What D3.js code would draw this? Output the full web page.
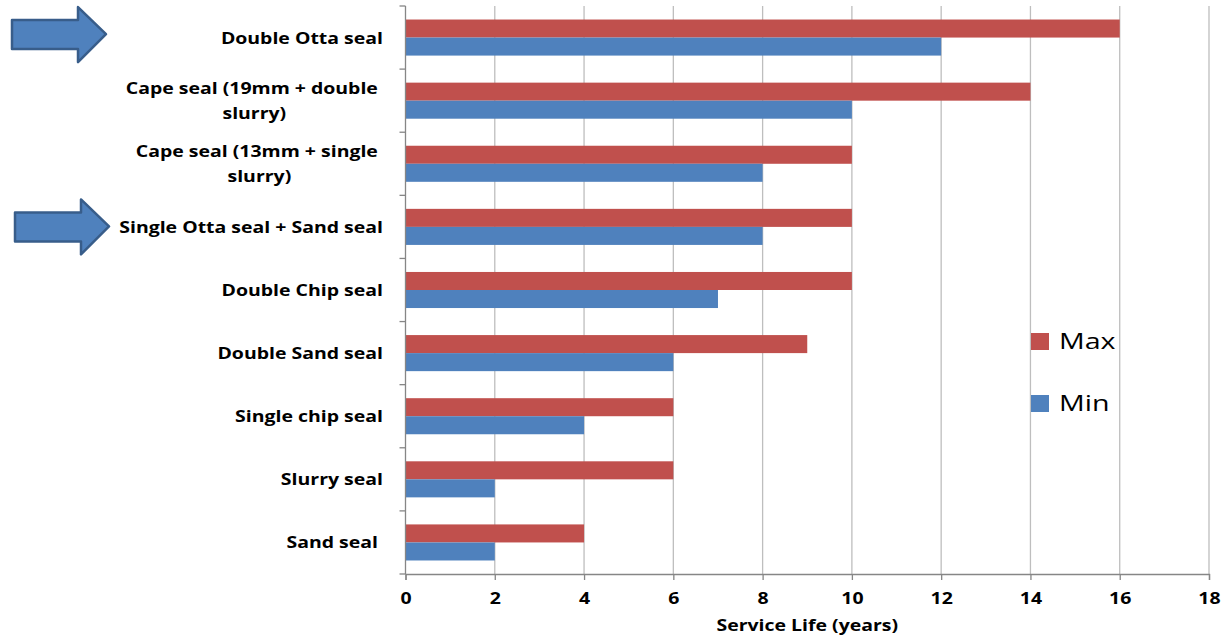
<!DOCTYPE html>
<html><head><meta charset="utf-8">
<script src="https://cdn.jsdelivr.net/npm/d3@7"></script>
<style>
html,body{margin:0;padding:0;background:#fff;}
text{font-family:"Open Sans","Liberation Sans",sans-serif;}
</style></head>
<body><svg id="c" width="1227" height="640"></svg>
<script>
const categories = [
  ["Double Otta seal"],
  ["Cape seal (19mm + double ", "slurry)"],
  ["Cape seal (13mm + single ", "slurry)"],
  ["Single Otta seal + Sand seal"],
  ["Double Chip seal"],
  ["Double Sand seal"],
  ["Single chip seal"],
  ["Slurry seal"],
  ["Sand seal "]
];
const maxValues = [16, 14, 10, 10, 10, 9, 6, 6, 4];
const minValues = [12, 10, 8, 8, 7, 6, 4, 2, 2];
const seriesNames = ["Max", "Min"];
const xTicks = [0, 2, 4, 6, 8, 10, 12, 14, 16, 18];
const xTitle = "Service Life (years)";
const highlighted = ["Double Otta seal", "Single Otta seal + Sand seal"];

const colors = {Max: "#C0504D", Min: "#4F81BD"};
const SX = 1.18; // horizontal text stretch seen in the reference
const svg = d3.select("#c");
const pLeft = 405.5, pRight = 1209, pTop = 6, pBottom = 574;
const keys = categories.map(c => c.join(" "));

const x = d3.scaleLinear().domain([0, 18]).range([pLeft, pRight]);
const y = d3.scaleBand().domain(keys).range([pTop, pBottom]).paddingInner(0).paddingOuter(0);
const yi = d3.scaleBand().domain(seriesNames).range([0, y.bandwidth()]).paddingInner(0).paddingOuter(0.75);

// gridlines
svg.append("g").selectAll("line").data(xTicks.filter(d => d > 0)).join("line")
  .attr("x1", d => x(d)).attr("x2", d => x(d)).attr("y1", pTop).attr("y2", pBottom)
  .attr("stroke", "#BEBEBE").attr("stroke-width", 1.3);

// bars
const data = keys.map((k, i) => ({k, Max: maxValues[i], Min: minValues[i]}));
const g = svg.append("g");
data.forEach(d => {
  seriesNames.forEach(s => {
    g.append("rect")
      .attr("x", x(0)).attr("y", y(d.k) + yi(s))
      .attr("width", x(d[s]) - x(0)).attr("height", yi.bandwidth())
      .attr("fill", colors[s]);
  });
});

// x axis
const xAxis = svg.append("g").attr("transform", `translate(0,${pBottom})`)
  .call(d3.axisBottom(x).tickValues(xTicks).tickSize(6).tickPadding(8));
xAxis.select(".domain").attr("stroke", "#868686").attr("stroke-width", 1.3);
xAxis.selectAll(".tick line").attr("stroke", "#868686").attr("stroke-width", 1.3);
xAxis.selectAll(".tick text").attr("font-size", 16.5).attr("font-weight", "bold")
  .attr("fill", "#000").attr("font-family", '"Open Sans",sans-serif')
  .attr("y", 0).attr("dy", 0).attr("text-anchor", "middle")
  .attr("transform", `translate(0,30) scale(${SX},1)`);

// y axis line + ticks at band boundaries
svg.append("line").attr("x1", pLeft).attr("x2", pLeft).attr("y1", pTop).attr("y2", pBottom)
  .attr("stroke", "#868686").attr("stroke-width", 1.3);
const bounds = keys.map(k => y(k)).concat([pBottom]);
svg.append("g").selectAll("line").data(bounds).join("line")
  .attr("x1", pLeft - 6).attr("x2", pLeft).attr("y1", d => d).attr("y2", d => d)
  .attr("stroke", "#868686").attr("stroke-width", 1.3);

// y labels
const lab = svg.append("g");
categories.forEach((lines, i) => {
  const cy = y(keys[i]) + y.bandwidth() / 2;
  const lh = 25;
  const texts = lines.map((ln, j) => lab.append("text")
    .attr("font-size", 16.5).attr("font-weight", "bold").attr("fill", "#000")
    .attr("text-anchor", "middle")
    .style("white-space", "pre")
    .text(ln));
  const widths = texts.map(tt => tt.node().getComputedTextLength());
  const w = Math.max(...widths) * SX;
  const cx = 383 - w / 2;
  texts.forEach((tt, j) => {
    const ty = cy + (j - (lines.length - 1) / 2) * lh + 6;
    tt.attr("transform", `translate(${cx},${ty}) scale(${SX},1)`);
  });
});

// x title
svg.append("text")
  .attr("transform", `translate(${(pLeft + pRight) / 2},631) scale(${SX},1)`)
  .attr("text-anchor", "middle").attr("font-size", 16.5).attr("font-weight", "bold")
  .text(xTitle);

// legend
const leg = svg.append("g");
seriesNames.forEach((s, i) => {
  const ly = 341 + i * 62;
  leg.append("rect").attr("x", 1031).attr("y", ly - 8).attr("width", 18).attr("height", 17).attr("fill", colors[s]);
  leg.append("text").attr("transform", `translate(1059,${ly + 8}) scale(1.3,1)`)
    .attr("font-size", 22).attr("fill", "#000").text(s);
});

// arrows pointing at highlighted categories
const arrowPts = [[0,13],[66,13],[66,0],[94,27],[66,55],[66,42],[0,42]];
highlighted.forEach(h => {
  const k = keys.indexOf(h);
  const cy = y(keys[k]) + y.bandwidth() / 2;
  const x0 = k === 0 ? 12 : 15;
  svg.append("polygon")
    .attr("points", arrowPts.map(p => [x0 + p[0], cy - 27.5 + p[1] - (k===0?3:0)].join(",")).join(" "))
    .attr("fill", "#4F81BD").attr("stroke", "#385D8A").attr("stroke-width", 2.5)
    .attr("stroke-linejoin", "round");
});
</script></body></html>
